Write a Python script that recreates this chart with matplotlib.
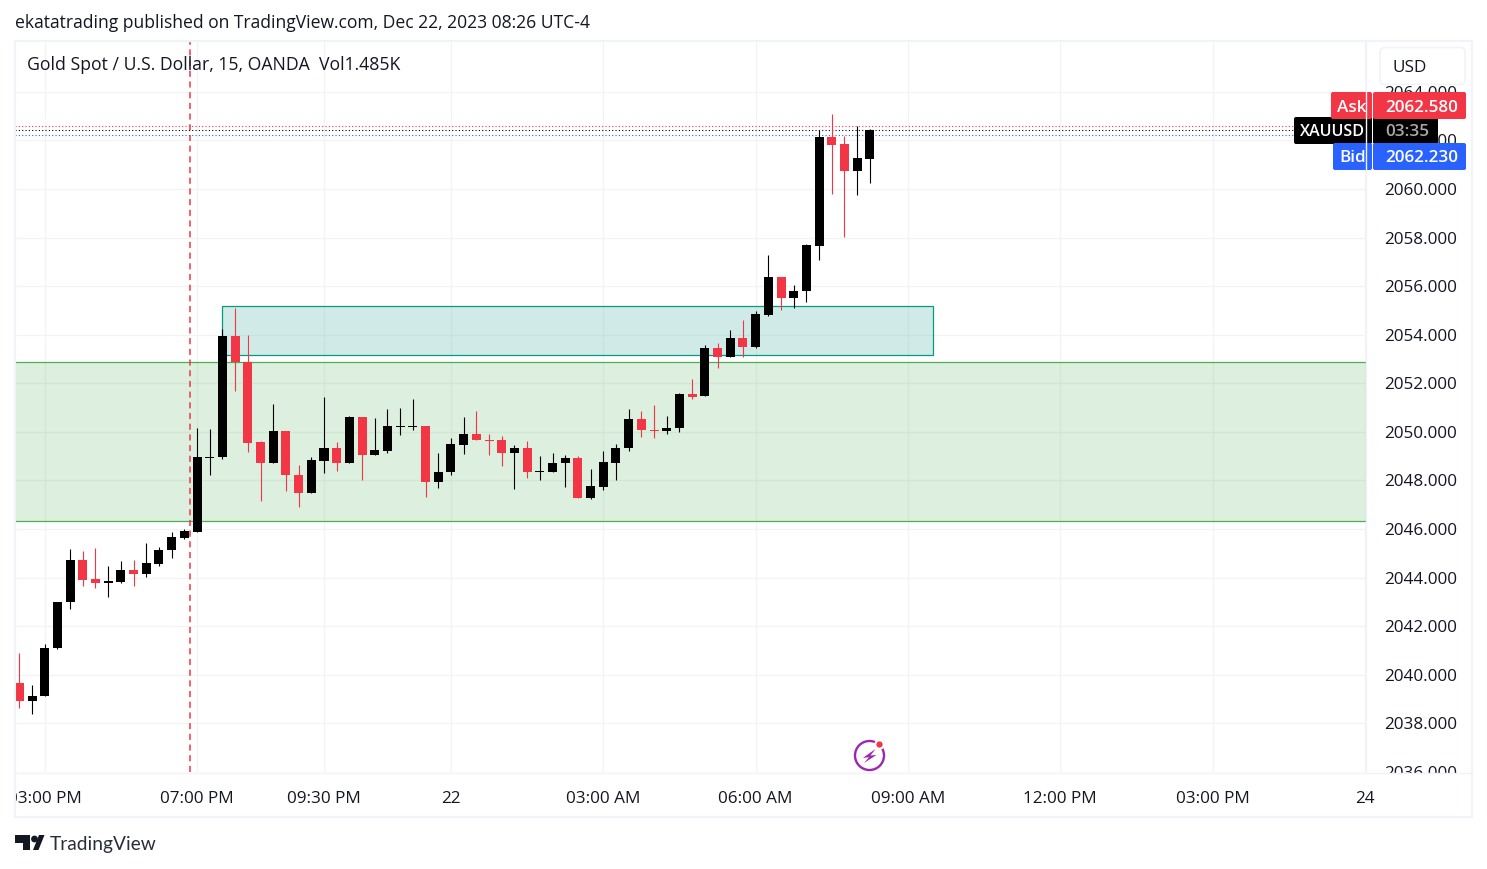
import matplotlib

matplotlib.use("Agg")
import matplotlib.pyplot as plt
import numpy as np
from matplotlib.patches import Circle, FancyBboxPatch, Polygon, Rectangle
from matplotlib.transforms import ScaledTranslation

plt.rcParams["font.family"] = ["Open Sans", "DejaVu Sans"]

# XAUUSD 15 minute candles
opens = [2039.66, 2038.91, 2039.11, 2041.09, 2042.98, 2044.74, 2043.95, 2043.76, 2043.84, 2044.33,
         2044.17, 2044.58, 2045.12, 2045.64, 2045.90, 2048.94, 2048.95, 2053.95, 2052.88, 2049.59,
         2048.70, 2050.05, 2048.23, 2047.47, 2048.82, 2049.35, 2048.74, 2050.62, 2049.03, 2049.23,
         2050.22, 2050.22, 2050.25, 2047.92, 2048.33, 2049.48, 2049.92, 2049.68, 2049.67, 2049.15,
         2049.35, 2048.33, 2048.33, 2048.70, 2048.93, 2047.26, 2047.75, 2048.74, 2049.32, 2050.54,
         2050.09, 2050.02, 2050.14, 2051.57, 2051.46, 2053.46, 2053.10, 2053.87, 2053.51, 2054.83,
         2056.38, 2055.53, 2055.78, 2057.67, 2062.14, 2061.86, 2060.76, 2061.25]
highs = [2040.90, 2039.58, 2041.28, 2043.01, 2045.19, 2045.11, 2045.23, 2044.49, 2044.70, 2044.74,
         2045.44, 2045.27, 2045.89, 2046.01, 2050.17, 2050.13, 2054.24, 2055.11, 2054.00, 2049.63,
         2051.16, 2050.05, 2048.65, 2048.98, 2051.44, 2049.59, 2050.66, 2050.62, 2050.58, 2050.95,
         2050.99, 2051.36, 2050.25, 2049.14, 2049.76, 2050.62, 2050.87, 2049.92, 2049.84, 2049.47,
         2049.63, 2049.02, 2049.14, 2049.06, 2049.02, 2048.48, 2049.22, 2049.51, 2050.95, 2050.87,
         2051.12, 2050.66, 2051.61, 2052.19, 2053.58, 2053.67, 2054.20, 2054.61, 2054.98, 2057.29,
         2056.38, 2056.05, 2057.74, 2062.43, 2063.09, 2062.19, 2062.60, 2062.47]
lows = [2038.62, 2038.37, 2039.11, 2041.05, 2042.73, 2043.64, 2043.56, 2043.19, 2043.80, 2043.64,
        2044.01, 2044.46, 2044.79, 2045.60, 2045.90, 2048.21, 2048.89, 2051.70, 2049.19, 2047.14,
        2048.70, 2047.55, 2046.89, 2047.47, 2048.29, 2048.37, 2048.74, 2048.04, 2049.03, 2049.15,
        2049.89, 2050.06, 2047.30, 2047.71, 2048.21, 2049.11, 2049.65, 2049.03, 2048.58, 2047.67,
        2048.12, 2048.00, 2048.33, 2047.75, 2047.26, 2047.22, 2047.59, 2048.00, 2049.23, 2049.77,
        2049.73, 2049.93, 2049.98, 2051.37, 2051.46, 2052.65, 2053.10, 2053.10, 2053.47, 2054.79,
        2055.00, 2055.12, 2055.33, 2057.09, 2059.81, 2058.04, 2059.77, 2060.26]
closes = [2038.91, 2039.14, 2041.12, 2043.01, 2044.74, 2043.91, 2043.76, 2043.87, 2044.33, 2044.17,
          2044.61, 2045.15, 2045.68, 2045.93, 2048.98, 2048.98, 2053.95, 2052.86, 2049.56, 2048.70,
          2050.05, 2048.21, 2047.47, 2048.85, 2049.35, 2048.74, 2050.62, 2049.03, 2049.26, 2050.25,
          2050.26, 2050.26, 2047.92, 2048.36, 2049.51, 2049.92, 2049.65, 2049.64, 2049.15, 2049.35,
          2048.33, 2048.37, 2048.73, 2048.93, 2047.26, 2047.78, 2048.77, 2049.35, 2050.54, 2050.06,
          2050.05, 2050.17, 2051.57, 2051.44, 2053.46, 2053.10, 2053.87, 2053.51, 2054.86, 2056.38,
          2055.53, 2055.81, 2057.70, 2062.14, 2061.83, 2060.76, 2061.28, 2062.43]

price_ticks = [2036, 2038, 2040, 2042, 2044, 2046, 2048, 2050, 2052, 2054, 2056, 2058, 2060, 2062, 2064]
time_ticks = [2, 14, 24, 34, 46, 58, 70, 82, 94, 106]
time_labels = ["03:00 PM", "07:00 PM", "09:30 PM", "22", "03:00 AM", "06:00 AM", "09:00 AM", "12:00 PM", "03:00 PM", "24"]

demand_zone = (2046.32, 2052.86)
supply_zone = (2053.15, 2055.17, 16, 72)
session_bar = 13.45
ask, last, bid = 2062.58, 2062.41, 2062.23

UP = "#000000"
DOWN = "#f23645"
BLUE = "#2962ff"
GRID = "#f2f3f5"
FRAME = "#f0f3fa"
TEXT = "#131722"

W, H = 1487, 870
fig = plt.figure(figsize=(W / 100, H / 100), dpi=100, facecolor="white")

# main pane, 15..1366 px wide and 43..773 px high on the rendered image
ax = fig.add_axes([15 / W, 1 - 773 / H, (1366 - 15) / W, (773 - 43) / H])
ax.set_xlim(-0.34, 106.08)
ax.set_ylim(2036.01, 2066.05)
for side in ax.spines.values():
    side.set_visible(False)
ax.set_axisbelow(True)
ax.grid(True, color=GRID, linewidth=0.9)
ax.yaxis.tick_right()
ax.set_yticks(price_ticks)
ax.set_yticklabels([f"{p:.3f}" for p in price_ticks])
ax.set_xticks(time_ticks)
ax.set_xticklabels(time_labels)
ax.tick_params(axis="y", length=0, pad=13, labelsize=12.3, labelcolor=TEXT)
ax.tick_params(axis="x", length=0, pad=12.8, labelsize=12.3, labelcolor=TEXT)

# the price labels sit one pixel above their grid lines
nudge = ScaledTranslation(0, 1 / 100, fig.dpi_scale_trans)
for label in ax.get_yticklabels():
    label.set_transform(label.get_transform() + nudge)

# zones
ax.axhspan(demand_zone[0], demand_zone[1], facecolor="#4caf50", alpha=0.19, edgecolor="none", zorder=1)
ax.axhline(demand_zone[0], color="#4caf50", linewidth=0.9, zorder=1.1)
ax.axhline(demand_zone[1], color="#4caf50", linewidth=0.9, zorder=1.1)
ax.add_patch(Rectangle((supply_zone[2], supply_zone[0]), supply_zone[3] - supply_zone[2], supply_zone[1] - supply_zone[0],
                       facecolor="#089981", alpha=0.19, edgecolor="none", zorder=1))
ax.add_patch(Rectangle((supply_zone[2], supply_zone[0]), supply_zone[3] - supply_zone[2], supply_zone[1] - supply_zone[0],
                       facecolor="none", edgecolor="#089981", linewidth=0.9, zorder=1.1))

ax.axvline(session_bar, color=DOWN, linewidth=1.1, dashes=(4, 3), zorder=2)

# price lines
ax.plot([-0.34, 100.3], [ask, ask], color=DOWN, linewidth=0.8, dashes=(1, 2), zorder=2)
ax.plot([-0.34, 100.3], [last, last], color="black", linewidth=0.8, dashes=(1, 2), zorder=2)
ax.plot([-0.34, 100.3], [bid, bid], color=BLUE, linewidth=0.8, dashes=(1, 2), zorder=2)

# candles
o = np.array(opens)
c = np.array(closes)
idx = np.arange(len(o))
colors = [DOWN if b < a else UP for a, b in zip(o, c)]
ax.vlines(idx, lows, highs, colors=colors, linewidth=0.8, zorder=3)
ax.bar(idx, np.abs(c - o), bottom=np.minimum(o, c), width=0.71, color=colors, linewidth=0, zorder=3.1)

# everything around the pane is drawn in pixels on an overlay
over = fig.add_axes([0, 0, 1, 1], zorder=5)
over.set_xlim(0, W)
over.set_ylim(H - 1, -1)
over.axis("off")

over.add_patch(Rectangle((0, 770), 14.5, 50, facecolor="white", edgecolor="none"))
over.add_patch(Rectangle((1367, 773), 106, 12, facecolor="white", edgecolor="none"))
over.add_patch(Rectangle((15, 41), 1457, 776, facecolor="none", edgecolor=FRAME, linewidth=1.5))
over.plot([15, 1472], [772.5, 772.5], color=FRAME, linewidth=1)
over.plot([1366, 1366], [42, 772], color=FRAME, linewidth=1)

over.text(15, 22.5, "ekatatrading published on TradingView.com, Dec 22, 2023 08:26 UTC-4",
          fontsize=12.65, color=TEXT, va="center", ha="left")
over.text(27, 64, "Gold Spot / U.S. Dollar, 15, OANDA  Vol1.485K", fontsize=12.72, color=TEXT, va="center", ha="left")

# USD button
over.add_patch(FancyBboxPatch((1380, 47.5), 85, 37, boxstyle="round,pad=0,rounding_size=5",
                              facecolor="white", edgecolor=FRAME, linewidth=1.2))
over.text(1393, 66.5, "USD", fontsize=12.3, color=TEXT, va="center", ha="left")


def tag(x0, x1, y0, y1, color, text, text_x, text_color="white", size=12.3):
    over.add_patch(FancyBboxPatch((x0, y0), x1 - x0, y1 - y0, boxstyle="round,pad=0,rounding_size=2",
                                  facecolor=color, edgecolor="none"))
    over.text(text_x, (y0 + y1) / 2 + 1, text, fontsize=size, color=text_color, va="center", ha="center",
              fontweight="semibold")


tag(1294, 1372, 117, 144, "black", "XAUUSD", 1333, size=11.6)
tag(1373, 1438, 117, 144, "black", "03:35", 1407.5, text_color="#a8a8a8")
tag(1331, 1372, 92, 119, DOWN, "Ask", 1352)
tag(1373, 1466, 92, 119, DOWN, f"{ask:.3f}", 1421.5)
tag(1333, 1372, 143, 170, BLUE, "Bid", 1353)
tag(1373, 1466, 143, 170, BLUE, f"{bid:.3f}", 1421.5)

# lightning badge
over.add_patch(Circle((869.5, 755.5), 14.5, facecolor="none", edgecolor="#9c27b0", linewidth=1.7))
over.add_patch(Polygon([(875.5, 749), (863, 757.8), (869, 757.3), (864, 763), (876.5, 755), (870.5, 755.5)],
                       closed=True, facecolor="#9c27b0", edgecolor="none"))
over.add_patch(Circle((879.5, 744.5), 4.2, facecolor=DOWN, edgecolor="white", linewidth=1.5))

# TradingView logo
LOGO = "#131722"
over.add_patch(Polygon([(15, 835), (30, 835), (30, 850), (22.5, 850), (22.5, 842.5), (15, 842.5)],
                       closed=True, facecolor=LOGO, edgecolor="none"))
over.add_patch(Circle((34.5, 839), 3.4, facecolor=LOGO, edgecolor="none"))
over.add_patch(Polygon([(39, 835), (44.5, 835), (38.5, 850), (33, 850)], closed=True, facecolor=LOGO, edgecolor="none"))
over.text(50, 844, "TradingView", fontsize=13.8, color="#2a2e39", va="center", ha="left", family="Lato")

fig.savefig("out.png", dpi=100)
